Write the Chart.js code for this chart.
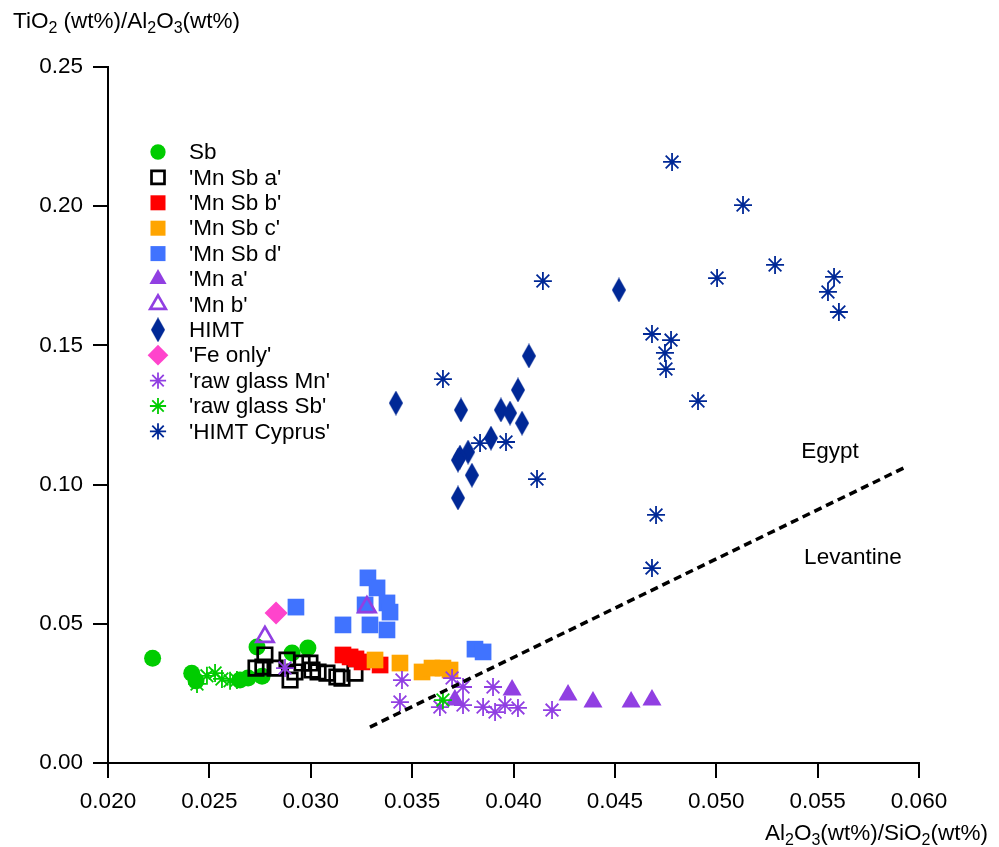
<!DOCTYPE html>
<html>
<head>
<meta charset="utf-8">
<script src="https://cdn.jsdelivr.net/npm/chart.js@4/dist/chart.umd.min.js"></script>
<style>
  html, body { margin: 0; padding: 0; background: #fff; }
  #wrap { width: 999px; height: 847px; }
</style>
</head>
<body>
<div id="wrap"><canvas id="myChart" width="999" height="847"></canvas></div>
<script>
// values: x = Al2O3/SiO2, y = TiO2/Al2O3
const sbX = [0.0222, 0.02413, 0.02434, 0.02651, 0.02691, 0.02735, 0.0276, 0.02908, 0.02986];
const sbY = [0.0376, 0.0322, 0.0295, 0.0298, 0.0305, 0.0417, 0.0312, 0.0395, 0.0413];

const mnSbAX = [0.0273, 0.02764, 0.02774, 0.02824, 0.02883, 0.02898, 0.02922, 0.02957, 0.02996, 0.03006, 0.03036, 0.0308, 0.03129, 0.03154, 0.03218];
const mnSbAY = [0.0341, 0.0345, 0.0388, 0.0341, 0.0370, 0.0298, 0.0327, 0.0359, 0.0359, 0.0334, 0.0327, 0.0323, 0.0309, 0.0305, 0.0323];

const mnSbBX = [0.03159, 0.03194, 0.03223, 0.03253, 0.03342];
const mnSbBY = [0.0388, 0.0381, 0.0374, 0.0363, 0.0352];

const mnSbCX = [0.03317, 0.0344, 0.03549, 0.03598, 0.03652, 0.03687];
const mnSbCY = [0.0370, 0.0359, 0.0327, 0.0341, 0.0341, 0.0334];

const mnSbDX = [0.02927, 0.03159, 0.03282, 0.03327, 0.03268, 0.03376, 0.03391, 0.03292, 0.03376, 0.0381, 0.0385];
const mnSbDY = [0.0560, 0.0496, 0.0665, 0.0629, 0.0568, 0.0575, 0.0542, 0.0496, 0.0478, 0.0409, 0.0399];

const mnAX = [0.03711, 0.03993, 0.04269, 0.04392, 0.0458, 0.04683];
const mnAY = [0.0226, 0.0262, 0.0244, 0.0219, 0.0219, 0.0226];

const mnBX = [0.02774, 0.03277];
const mnBY = [0.0453, 0.0560];

const himtX = [0.0342, 0.03741, 0.04076, 0.04022, 0.03938, 0.03983, 0.04042, 0.03889, 0.03776, 0.03736, 0.03726, 0.03795, 0.03726, 0.0452];
const himtY = [0.1293, 0.1268, 0.1462, 0.1340, 0.1268, 0.1257, 0.1221, 0.1167, 0.1117, 0.1099, 0.1088, 0.1034, 0.0952, 0.1699];

const feOnlyX = [0.02829];
const feOnlyY = [0.0539];

const rawMnX = [0.02873, 0.0345, 0.0344, 0.03697, 0.03751, 0.03899, 0.03637, 0.03751, 0.0385, 0.03909, 0.03958, 0.04022, 0.0419];
const rawMnY = [0.0341, 0.0298, 0.0219, 0.0305, 0.0273, 0.0273, 0.0201, 0.0208, 0.0201, 0.0183, 0.0208, 0.0198, 0.0190];

const rawSbX = [0.02439, 0.02488, 0.02528, 0.02562, 0.02602, 0.02636, 0.03652];
const rawSbY = [0.0284, 0.0313, 0.0323, 0.0302, 0.0295, 0.0298, 0.0226];

const cyprusX = [0.04782, 0.05132, 0.0529, 0.05004, 0.05581, 0.05551, 0.05605, 0.04145, 0.03652, 0.03835, 0.03963, 0.04116, 0.04683, 0.04777, 0.04747, 0.04752, 0.0491, 0.04703, 0.04683];
const cyprusY = [0.2159, 0.2004, 0.1789, 0.1742, 0.1746, 0.1692, 0.1620, 0.1731, 0.1379, 0.1149, 0.1153, 0.1020, 0.1541, 0.1519, 0.1473, 0.1415, 0.1300, 0.0891, 0.0700];

// Egypt / Levantine dividing line
const divideX = [0.03292, 0.05945];
const divideY = [0.0129, 0.1067];

const regionNames = ['Egypt', 'Levantine'];
const regionX = [0.05561, 0.05674];
const regionY = [0.1117, 0.0736];

const xTicks = [0.020, 0.025, 0.030, 0.035, 0.040, 0.045, 0.050, 0.055, 0.060];
const yTicks = [0.00, 0.05, 0.10, 0.15, 0.20, 0.25];

const FONT = '"Liberation Sans", Arial, Helvetica, sans-serif';
const FS = 22.5;
const purple = 'rgb(145,63,226)';
const navy = 'rgb(0,40,150)';
const green = 'rgb(0,204,0)';

function pts(xs, ys) {
    return xs.map((x, i) => ({ x: x, y: ys[i] }));
}

// tall thin diamond for HIMT
function makeDiamond(w, h, color) {
    const c = document.createElement('canvas');
    c.width = w; c.height = h;
    const g = c.getContext('2d');
    g.fillStyle = color;
    g.beginPath();
    g.moveTo(w / 2, 0);
    g.lineTo(w, h / 2);
    g.lineTo(w / 2, h);
    g.lineTo(0, h / 2);
    g.closePath();
    g.fill();
    return c;
}
const diamond = makeDiamond(14, 25, navy);

function series(label, xs, ys, style, radius, fill, stroke, bw) {
    return {
        label: label,
        data: pts(xs, ys),
        pointStyle: style,
        pointRadius: radius,
        pointHoverRadius: radius,
        backgroundColor: fill,
        borderColor: stroke,
        borderWidth: bw,
        pointBorderWidth: bw
    };
}

const datasets = [
    series('Sb', sbX, sbY, 'circle', 8.5, green, green, 0),
    series("'Mn Sb a'", mnSbAX, mnSbAY, 'rect', 10.2, 'rgba(0,0,0,0)', '#000', 2.7),
    series("'Mn Sb b'", mnSbBX, mnSbBY, 'rect', 11.8, 'rgb(255,0,0)', 'rgb(255,0,0)', 0),
    series("'Mn Sb c'", mnSbCX, mnSbCY, 'rect', 11.8, 'rgb(255,165,0)', 'rgb(255,165,0)', 0),
    series("'Mn Sb d'", mnSbDX, mnSbDY, 'rect', 11.8, 'rgb(64,115,255)', 'rgb(64,115,255)', 0),
    series("'Mn a'", mnAX, mnAY, 'triangle', 11, purple, purple, 0),
    series("'Mn b'", mnBX, mnBY, 'triangle', 10, 'rgba(0,0,0,0)', purple, 2.7),
    series('HIMT', himtX, himtY, diamond, 12, navy, navy, 0),
    series("'Fe only'", feOnlyX, feOnlyY, 'rectRot', 11.5, 'rgb(255,68,204)', 'rgb(255,68,204)', 0),
    series("'raw glass Mn'", rawMnX, rawMnY, 'star', 9, purple, purple, 1.8),
    series("'raw glass Sb'", rawSbX, rawSbY, 'star', 9, green, green, 1.8),
    series("'HIMT Cyprus'", cyprusX, cyprusY, 'star', 9, navy, navy, 1.8)
];
// later traces sit on top, like the original
datasets.forEach((d, i) => { d.order = -i; });

datasets.push({
    label: '',
    data: pts(divideX, divideY),
    showLine: true,
    pointRadius: 0,
    borderColor: '#000',
    borderWidth: 3.5,
    borderDash: [8, 5],
    order: -20
});

// legend drawn inside the plot, top left
const insideLegend = {
    id: 'insideLegend',
    afterDraw(chart) {
        const ctx = chart.ctx;
        let y = 152;
        chart.data.datasets.forEach(ds => {
            if (!ds.label) return;
            ctx.save();
            ctx.fillStyle = ds.backgroundColor;
            ctx.strokeStyle = ds.borderColor;
            ctx.lineWidth = ds.borderWidth;
            Chart.helpers.drawPoint(ctx, {
                pointStyle: ds.pointStyle,
                radius: ds.pointRadius * 0.9,
                rotation: 0,
                borderWidth: ds.borderWidth
            }, 158, y);
            ctx.fillStyle = '#000';
            ctx.font = FS + 'px ' + FONT;
            ctx.textBaseline = 'middle';
            ctx.textAlign = 'left';
            ctx.fillText(ds.label, 189, y + 1);
            ctx.restore();
            y += 25.4;
        });
    }
};

// text with subscripts: parts = [[text, isSub], ...]
function drawRich(ctx, parts, x, y, align) {
    const big = FS + 'px ' + FONT, small = '16px ' + FONT;
    let total = 0;
    parts.forEach(p => { ctx.font = p[1] ? small : big; total += ctx.measureText(p[0]).width; });
    let cx = align === 'right' ? x - total : x;
    ctx.textAlign = 'left';
    ctx.textBaseline = 'alphabetic';
    parts.forEach(p => {
        ctx.font = p[1] ? small : big;
        ctx.fillText(p[0], cx, p[1] ? y + 5 : y);
        cx += ctx.measureText(p[0]).width;
    });
}

const labelsPlugin = {
    id: 'extraText',
    afterDraw(chart) {
        const ctx = chart.ctx;
        const xs = chart.scales.x, ys = chart.scales.y;
        ctx.save();
        ctx.fillStyle = '#000';
        drawRich(ctx, [['TiO', 0], ['2', 1], [' (wt%)/Al', 0], ['2', 1], ['O', 0], ['3', 1], ['(wt%)', 0]], 13, 28, 'left');
        drawRich(ctx, [['Al', 0], ['2', 1], ['O', 0], ['3', 1], ['(wt%)/SiO', 0], ['2', 1], ['(wt%)', 0]], 988, 840, 'right');
        ctx.font = FS + 'px ' + FONT;
        ctx.textAlign = 'center';
        ctx.textBaseline = 'middle';
        regionNames.forEach((name, i) => {
            ctx.fillText(name, xs.getPixelForValue(regionX[i]), ys.getPixelForValue(regionY[i]));
        });
        ctx.restore();
    }
};

const ctx = document.getElementById('myChart').getContext('2d');
new Chart(ctx, {
    type: 'scatter',
    data: { datasets: datasets },
    plugins: [insideLegend, labelsPlugin],
    options: {
        responsive: false,
        animation: false,
        devicePixelRatio: 1,
        events: [],
        layout: { padding: { top: 67, right: 80, left: 0, bottom: 0 } },
        plugins: { legend: { display: false }, tooltip: { enabled: false } },
        scales: {
            x: {
                type: 'linear',
                min: 0.02,
                max: 0.06,
                afterFit: s => { s.height = 84; },
                afterBuildTicks: s => { s.ticks = xTicks.map(v => ({ value: v })); },
                ticks: {
                    color: '#000',
                    font: { family: FONT, size: FS },
                    padding: 10,
                    maxRotation: 0,
                    callback: v => Number(v).toFixed(3)
                },
                grid: { drawOnChartArea: false, drawTicks: true, tickLength: 15, color: '#000', lineWidth: 2 },
                border: { display: true, color: '#000', width: 2 }
            },
            y: {
                type: 'linear',
                min: 0,
                max: 0.25,
                afterFit: s => { s.width = 108; },
                afterBuildTicks: s => { s.ticks = yTicks.map(v => ({ value: v })); },
                ticks: {
                    color: '#000',
                    font: { family: FONT, size: FS },
                    padding: 10,
                    callback: v => Number(v).toFixed(2)
                },
                grid: { drawOnChartArea: false, drawTicks: true, tickLength: 15, color: '#000', lineWidth: 2 },
                border: { display: true, color: '#000', width: 2 }
            }
        }
    }
});
</script>
</body>
</html>
